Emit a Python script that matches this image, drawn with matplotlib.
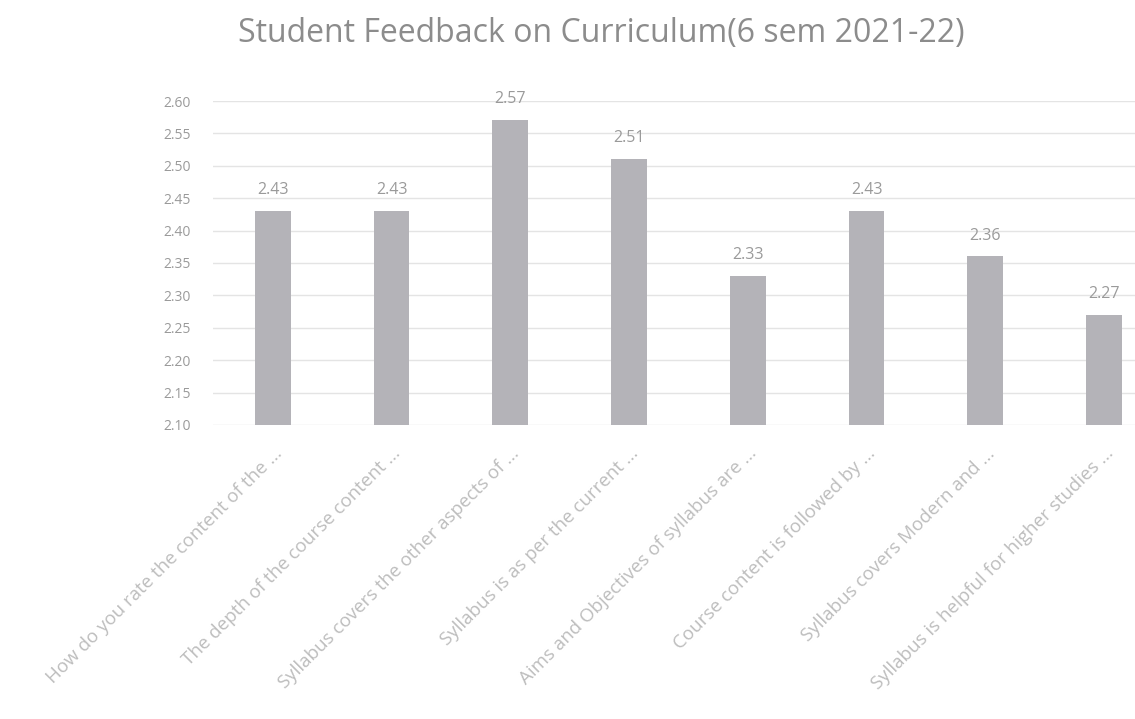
import matplotlib.pyplot as plt
import numpy as np

categories = [
    "How do you rate the content of the ...",
    "The depth of the course content ...",
    "Syllabus covers the other aspects of ...",
    "Syllabus is as per the current ...",
    "Aims and Objectives of syllabus are ...",
    "Course content is followed by ...",
    "Syllabus covers Modern and ...",
    "Syllabus is helpful for higher studies ...",
]
scores = [2.43, 2.43, 2.57, 2.51, 2.33, 2.43, 2.36, 2.27]
yticks = [2.10, 2.15, 2.20, 2.25, 2.30, 2.35, 2.40, 2.45, 2.50, 2.55, 2.60]

text_col = "#9a9a9a"
plt.rcParams["font.family"] = ["Open Sans", "DejaVu Sans"]

fig = plt.figure(figsize=(11.35, 7.19), dpi=100)
# chart is cropped on the right in the reference, so the axes run past the edge
ax = fig.add_axes([0.188, 0.409, 0.837, 0.4505])

x = np.arange(len(categories))
bars = ax.bar(x, scores, width=0.3, color="#b4b3b8", zorder=2)

ax.set_ylim(2.10, 2.60)
ax.set_xlim(-0.5, len(categories) - 0.5)
ax.set_yticks(yticks)
ax.set_yticklabels([f"{v:.2f}" for v in yticks], fontsize=10, color=text_col)
ax.yaxis.grid(True, color="#e4e4e4", linewidth=1, zorder=0)
ax.tick_params(axis="both", length=0)
ax.tick_params(axis="y", pad=16)
ax.tick_params(axis="x", pad=14)

ax.set_xticks(x)
ax.set_xticklabels(categories, rotation=45, ha="right", rotation_mode="anchor",
                   fontsize=13.5, color="#bdbdbd")

for sp in ax.spines.values():
    sp.set_visible(False)

for b, v in zip(bars, scores):
    ax.text(b.get_x() + b.get_width() / 2, v + 0.02, f"{v:.2f}",
            ha="center", va="bottom", fontsize=11.5, color=text_col)

fig.text(0.53, 0.953, "Student Feedback on Curriculum(6 sem 2021-22)",
         ha="center", va="center", fontsize=23, color="#8c8c8c")

fig.savefig("out.png", dpi=100)
